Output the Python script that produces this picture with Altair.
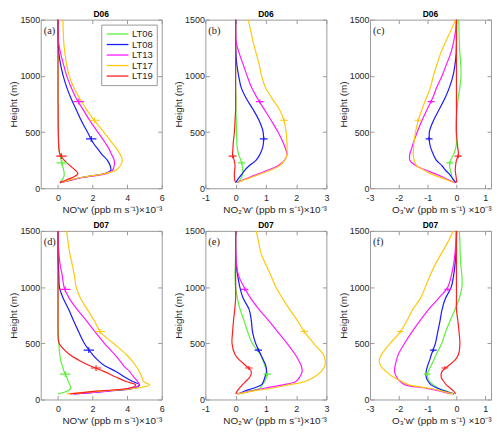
import altair as alt
import pandas as pd

# ---------------- data ----------------
HEIGHTS = [50, 75, 100, 130, 160, 200, 250, 300, 350, 400, 500, 600, 700, 800, 900, 1000, 1100, 1200, 1300, 1400, 1500]
SERIES = ["LT06", "LT08", "LT13", "LT17", "LT19"]
COLORS = ["#5bf23a", "#1a1aff", "#ff1aff", "#ffc80f", "#ff1f1f"]

# (a) NO'w', D06
A_LT06 = [0.10, 0.24, 0.33, 0.36, 0.33, 0.27, 0.18, 0.10, 0.06, 0.04, 0.01, 0.0, 0.0, 0.0, 0.0, 0.0, 0.0, 0.0, 0.0, 0.0, 0.0]
A_LT08 = [0.12, 0.80, 1.50, 2.70, 3.05, 3.02, 2.85, 2.55, 2.30, 2.05, 1.70, 1.35, 1.05, 0.75, 0.50, 0.30, 0.15, 0.05, 0.01, 0.0, 0.0]
A_LT13 = [0.12, 0.80, 1.60, 2.80, 3.15, 3.25, 3.25, 3.10, 2.95, 2.75, 2.30, 1.85, 1.45, 1.05, 0.75, 0.50, 0.32, 0.15, 0.03, 0.0, 0.0]
A_LT17 = [0.13, 0.70, 1.50, 2.70, 3.35, 3.60, 3.72, 3.60, 3.40, 3.15, 2.65, 2.12, 1.65, 1.25, 0.90, 0.65, 0.50, 0.40, 0.33, 0.30, 0.28]
A_LT19 = [0.10, 0.50, 0.90, 1.15, 1.00, 0.70, 0.35, 0.12, 0.05, 0.03, 0.02, 0.01, 0.01, 0.0, 0.0, 0.0, 0.0, 0.0, 0.0, 0.0, 0.0]

# (b) NO2'w', D06
B_LT06 = [0.06, 0.14, 0.20, 0.23, 0.24, 0.22, 0.17, 0.10, 0.06, 0.04, 0.03, 0.02, 0.01, 0.01, 0.0, 0.0, 0.0, 0.0, 0.0, 0.0, 0.0]
B_LT08 = [0.0, 0.06, 0.13, 0.22, 0.30, 0.45, 0.68, 0.80, 0.88, 0.92, 0.91, 0.78, 0.58, 0.35, 0.18, 0.10, 0.04, 0.01, 0.0, 0.0, 0.0]
B_LT13 = [0.04, 0.25, 0.48, 0.78, 1.05, 1.40, 1.62, 1.70, 1.65, 1.58, 1.40, 1.18, 0.95, 0.72, 0.52, 0.38, 0.25, 0.12, 0.02, 0.0, 0.0]
B_LT17 = [0.06, 0.30, 0.55, 0.85, 1.15, 1.45, 1.62, 1.70, 1.70, 1.70, 1.67, 1.60, 1.45, 1.20, 0.98, 0.86, 0.78, 0.68, 0.58, 0.50, 0.42]
B_LT19 = [0.0, -0.03, -0.04, -0.04, -0.03, -0.02, -0.05, -0.10, -0.09, -0.08, -0.04, -0.02, 0.0, 0.0, 0.0, 0.0, 0.0, 0.0, 0.0, 0.0, 0.0]

# (c) O3'w', D06
C_LT06 = [-0.04, -0.10, -0.16, -0.18, -0.21, -0.24, -0.20, -0.10, -0.03, 0.0, -0.01, -0.01, 0.02, 0.06, 0.12, 0.16, 0.15, 0.12, 0.10, 0.09, 0.08]
C_LT08 = [-0.02, -0.10, -0.17, -0.26, -0.38, -0.50, -0.70, -0.80, -0.88, -0.93, -0.94, -0.80, -0.60, -0.40, -0.24, -0.12, -0.05, -0.01, 0.0, 0.0, 0.0]
C_LT13 = [-0.06, -0.28, -0.48, -0.75, -1.05, -1.40, -1.62, -1.62, -1.56, -1.50, -1.36, -1.20, -1.02, -0.83, -0.68, -0.50, -0.35, -0.20, -0.10, -0.03, 0.0]
C_LT17 = [-0.08, -0.34, -0.60, -0.90, -1.12, -1.38, -1.47, -1.50, -1.49, -1.48, -1.42, -1.33, -1.20, -1.05, -0.90, -0.80, -0.68, -0.55, -0.38, -0.20, -0.03]
C_LT19 = [0.01, 0.0, -0.01, -0.03, -0.04, -0.03, 0.0, 0.07, 0.05, 0.03, 0.0, 0.0, 0.0, 0.0, 0.0, 0.0, 0.0, 0.0, 0.0, 0.0, 0.0]

# (d) NO'w', D07
D_LT06 = [0.0, 0.55, 0.74, 0.68, 0.60, 0.50, 0.35, 0.25, 0.15, 0.10, 0.05, 0.02, 0.0, 0.0, 0.0, 0.0, 0.0, 0.0, 0.0, 0.0, 0.0]
D_LT08 = [0.90, 2.90, 4.40, 4.72, 4.32, 3.85, 3.35, 2.70, 2.30, 2.00, 1.52, 1.20, 0.90, 0.62, 0.30, 0.08, 0.05, 0.02, 0.0, 0.0, 0.0]
D_LT13 = [0.90, 2.90, 4.10, 4.70, 4.60, 4.38, 4.13, 3.80, 3.55, 3.28, 2.68, 2.15, 1.65, 1.12, 0.65, 0.35, 0.25, 0.12, 0.05, 0.01, 0.0]
D_LT17 = [0.50, 2.50, 4.50, 5.30, 4.95, 4.85, 4.70, 4.50, 4.25, 3.95, 3.20, 2.45, 2.10, 1.70, 1.30, 1.05, 0.95, 0.82, 0.68, 0.58, 0.50]
D_LT19 = [0.70, 2.20, 4.10, 4.50, 3.94, 3.35, 2.65, 1.85, 1.20, 0.67, 0.06, 0.0, 0.0, 0.0, 0.0, 0.0, 0.0, 0.0, 0.0, 0.0, 0.0]

# (e) NO2'w', D07
E_LT06 = [0.15, 0.45, 0.80, 0.88, 0.96, 1.02, 1.03, 0.97, 0.90, 0.82, 0.55, 0.40, 0.28, 0.15, 0.06, 0.0, -0.02, -0.01, 0.0, 0.0, 0.0]
E_LT08 = [0.10, 0.30, 0.58, 0.85, 0.92, 0.97, 1.02, 1.00, 0.92, 0.83, 0.66, 0.56, 0.52, 0.45, 0.25, 0.14, 0.07, 0.02, 0.0, 0.0, 0.0]
E_LT13 = [0.04, 0.50, 0.95, 1.55, 1.99, 2.12, 2.20, 2.17, 2.08, 1.97, 1.70, 1.40, 1.10, 0.78, 0.50, 0.28, 0.10, 0.03, 0.01, 0.0, 0.0]
E_LT17 = [0.06, 0.55, 1.20, 1.75, 2.30, 2.60, 2.83, 2.95, 2.96, 2.90, 2.58, 2.28, 2.05, 1.79, 1.55, 1.33, 1.17, 1.00, 0.84, 0.76, 0.68]
E_LT19 = [0.0, 0.05, 0.12, 0.22, 0.33, 0.47, 0.52, 0.34, 0.13, -0.02, -0.12, -0.10, -0.07, -0.03, 0.0, 0.0, 0.0, 0.0, 0.0, 0.0, 0.0]

# (f) O3'w', D07
F_LT06 = [-0.10, -0.35, -0.62, -0.80, -0.93, -1.00, -0.98, -0.88, -0.79, -0.70, -0.51, -0.38, -0.22, -0.05, 0.10, 0.19, 0.19, 0.15, 0.13, 0.12, 0.10]
F_LT08 = [-0.08, -0.40, -0.65, -0.88, -0.98, -1.05, -1.05, -1.00, -0.93, -0.87, -0.73, -0.65, -0.57, -0.50, -0.38, -0.18, -0.10, -0.05, -0.02, 0.0, 0.0]
F_LT13 = [-0.20, -0.55, -1.05, -1.78, -1.95, -2.08, -2.15, -2.13, -2.08, -2.02, -1.80, -1.55, -1.27, -0.97, -0.62, -0.30, -0.18, -0.10, -0.05, -0.02, 0.0]
F_LT17 = [-0.10, -0.50, -0.95, -1.65, -1.90, -2.20, -2.45, -2.63, -2.68, -2.60, -2.30, -1.95, -1.72, -1.52, -1.25, -1.08, -0.92, -0.74, -0.52, -0.30, -0.11]
F_LT19 = [-0.02, -0.10, -0.21, -0.35, -0.44, -0.53, -0.50, -0.28, -0.05, 0.07, 0.12, 0.09, 0.05, 0.0, 0.0, 0.0, 0.0, 0.0, 0.0, 0.0, 0.0]

# marker heights (per day) and marker values (per panel), order = SERIES
MARK_H_D06 = [225, 440, 770, 605, 285]
MARK_H_D07 = [225, 440, 980, 605, 280]
MARK_A = [0.22, 1.92, 1.20, 2.12, 0.20]
MARK_B = [0.20, 0.93, 0.80, 1.60, -0.10]
MARK_C = [-0.23, -0.95, -0.88, -1.33, 0.06]
MARK_D = [0.42, 1.78, 0.42, 2.42, 2.20]
MARK_E = [1.05, 0.75, 0.30, 2.27, 0.44]
MARK_F = [-1.02, -0.80, -0.30, -1.95, -0.40]

TITLE_NO = "NO'w' (ppb m s\u207b\u00b9)\u00d710\u207b\u00b3"
TITLE_NO2 = "NO\u2082'w' (ppb m s\u207b\u00b9)\u00d710\u207b\u00b3"
TITLE_O3 = "O\u2083'w' (ppb m s\u207b\u00b9) \u00d710\u207b\u00b3"

PANELS = [
    ("D06", "(a)", [A_LT06, A_LT08, A_LT13, A_LT17, A_LT19], MARK_H_D06, MARK_A, [-1, 6], [0, 2, 4, 6], TITLE_NO, True, 110),
    ("D06", "(b)", [B_LT06, B_LT08, B_LT13, B_LT17, B_LT19], MARK_H_D06, MARK_B, [-1, 3], [-1, 0, 1, 2, 3], TITLE_NO2, False, 60),
    ("D06", "(c)", [C_LT06, C_LT08, C_LT13, C_LT17, C_LT19], MARK_H_D06, MARK_C, [-3, 1.2], [-3, -2, -1, 0, 1], TITLE_O3, False, 50),
    ("D07", "(d)", [D_LT06, D_LT08, D_LT13, D_LT17, D_LT19], MARK_H_D07, MARK_D, [-1, 6], [0, 2, 4, 6], TITLE_NO, False, 110),
    ("D07", "(e)", [E_LT06, E_LT08, E_LT13, E_LT17, E_LT19], MARK_H_D07, MARK_E, [-1, 3], [-1, 0, 1, 2, 3], TITLE_NO2, False, 55),
    ("D07", "(f)", [F_LT06, F_LT08, F_LT13, F_LT17, F_LT19], MARK_H_D07, MARK_F, [-3, 1.2], [-3, -2, -1, 0, 1], TITLE_O3, False, 45),
]

W, H = 122, 170
FRAME = "#9a9a9a"
TXT = "#262626"
MARKER_PATH = "M-1,0L1,0M0,-0.55L0,0.55"
LEGEND_PATH = "M-2.3,0L2.3,0"
LABEL_EXPR = "toString(datum.value)"

color_scale = alt.Scale(domain=SERIES, range=COLORS)
y_scale = alt.Scale(domain=[0, 1500], nice=False, zero=False)


def make_panel(title, letter, series_vals, mark_h, mark_x, xdom, xticks, xtitle, legend, msize):
    rows = []
    for s, vals in zip(SERIES, series_vals):
        for h, v in zip(HEIGHTS, vals):
            rows.append({"series": s, "h": h, "val": v})
    df = pd.DataFrame(rows)
    mdf = pd.DataFrame({"series": SERIES, "h": mark_h, "val": mark_x})
    x_scale = alt.Scale(domain=xdom, nice=False, zero=False)

    if legend:
        leg = alt.Legend(
            orient="top-right", title=None, symbolType=LEGEND_PATH, symbolSize=90,
            symbolStrokeWidth=1.3, symbolOffset=7, labelFontSize=9.5,
            labelFont="Liberation Sans", labelColor=TXT, padding=4, offset=5,
            strokeColor=FRAME, fillColor="white", rowPadding=0.6, labelOffset=9,
            cornerRadius=0,
        )
    else:
        leg = None

    lines = alt.Chart(df).mark_line(strokeWidth=1.2, interpolate="catmull-rom").encode(
        x=alt.X("val:Q", scale=x_scale,
                axis=alt.Axis(orient="bottom", values=xticks, title=xtitle, titleAnchor="end",
                              offset=-4, tickSize=4, domain=False, labelPadding=5,
                              titlePadding=2, labelFlush=False, labelExpr=LABEL_EXPR,
                              minExtent=0)),
        y=alt.Y("h:Q", scale=y_scale,
                axis=alt.Axis(orient="left", values=[0, 500, 1000, 1500], title="Height (m)",
                              offset=-4, tickSize=4, domain=False, labelPadding=1,
                              titlePadding=1, labelExpr=LABEL_EXPR, minExtent=0)),
        color=alt.Color("series:N", scale=color_scale, legend=leg),
        order=alt.Order("h:Q"),
        detail="series:N",
    )

    markers = alt.Chart(mdf).mark_point(shape=MARKER_PATH, filled=False, size=msize,
                                        strokeWidth=1.2, opacity=1).encode(
        x=alt.X("val:Q", scale=x_scale,
                axis=alt.Axis(orient="top", values=xticks, title=None, labels=False,
                              offset=-4, tickSize=4, domain=False, minExtent=0, maxExtent=0)),
        y=alt.Y("h:Q", scale=y_scale,
                axis=alt.Axis(orient="right", values=[0, 500, 1000, 1500], title=None,
                              labels=False, offset=-4, tickSize=4, domain=False,
                              minExtent=0, maxExtent=0)),
        color=alt.Color("series:N", scale=color_scale, legend=None),
    )

    lab = alt.Chart(pd.DataFrame({"t": [letter]})).mark_text(
        font="Liberation Serif", fontSize=10.5, align="left", baseline="middle", color=TXT
    ).encode(text="t:N", x=alt.value(3), y=alt.value(11))

    return alt.layer(lines, markers, lab).resolve_axis(
        x="independent", y="independent"
    ).properties(width=W, height=H, title=title)


panels = [make_panel(*p) for p in PANELS]

chart = alt.concat(*panels, columns=3, spacing={"row": 6, "column": 7}).resolve_legend(
    color="independent"
).properties(padding=0).configure(font="Liberation Sans").configure_view(
    stroke=FRAME, strokeWidth=1
).configure_axis(
    labelFont="Liberation Sans", titleFont="Liberation Sans", labelFontSize=9,
    titleFontSize=10, labelColor=TXT, titleColor=TXT, tickColor=FRAME,
    titleFontWeight="normal", grid=False,
).configure_title(
    font="Liberation Sans", fontSize=8.5, fontWeight="bold", color="#000000", offset=-3
)

chart.save("out.html", embed_options={"renderer": "svg", "actions": False})
